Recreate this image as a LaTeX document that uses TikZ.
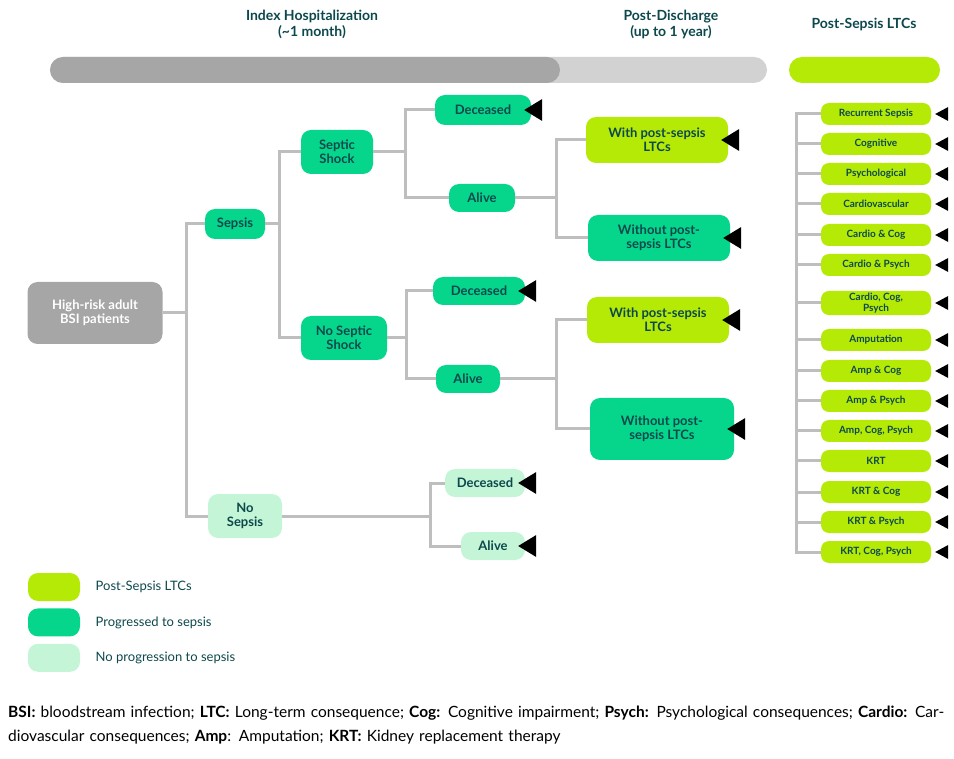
\documentclass[tikz,border=0pt]{standalone}
\usepackage{fontspec}
\setmainfont{Lato}
\usepackage{tikz}
\usetikzlibrary{positioning}
\definecolor{darkTeal}{RGB}{12,72,76}
\definecolor{sepsGreen}{RGB}{6,214,140}
\definecolor{noSeps}{RGB}{196,245,214}
\definecolor{ltcLime}{RGB}{180,234,6}
\definecolor{rootGray}{RGB}{166,166,166}
\definecolor{lineGray}{RGB}{190,190,190}
\tikzset{
  box/.style={rounded corners=10pt, align=center, font=\bfseries\fontsize{13}{14}\selectfont, text=darkTeal, inner sep=2pt},
  seps/.style={box, fill=sepsGreen},
  noseps/.style={box, fill=noSeps},
  ltc/.style={box, fill=ltcLime},
  small/.style={ltc, font=\bfseries\fontsize{10}{11}\selectfont, rounded corners=8pt},
  tree/.style={draw=lineGray, line width=3pt},
  marker/.style={fill=black},
}
\newcommand{\tri}[1]{\fill[marker] (#1) ++(-7,0) -- ++(18,11) -- ++(0,-22) -- cycle;}
\begin{document}
\begin{tikzpicture}[x=1pt, y=-1pt]
  \useasboundingbox (0,0) rectangle (954,759);
  % timeline bars
  \fill[rounded corners=13pt, lightgray!70] (50,57) rectangle (767,83);
  \fill[rounded corners=13pt, rootGray] (50,57) rectangle (560,83);
  \fill[rounded corners=13pt, ltcLime] (789,57) rectangle (940,83);
  \node[align=center, text=darkTeal, font=\bfseries\fontsize{14}{16}\selectfont] (hdrA) at (312,24) {Index Hospitalization\\(\textasciitilde1 month)};
  \node[align=center, text=darkTeal, font=\bfseries\fontsize{14}{16}\selectfont] (hdrB) at (671,24) {Post-Discharge\\(up to 1 year)};
  \node[text=darkTeal, font=\bfseries\fontsize{14}{16}\selectfont] (hdrC) at (864,24) {Post-Sepsis LTCs};

  % tree
  \node[box, fill=rootGray, text=white, minimum width=135pt, minimum height=62pt] (root) at (95,313) {High-risk adult\\BSI patients};
  \node[seps, minimum width=60pt, minimum height=30pt] (sepsis) at (235,224) {Sepsis};
  \node[noseps, minimum width=74pt, minimum height=44pt] (nosepsis) at (245,516) {No\\Sepsis};
  \node[seps, minimum width=72pt, minimum height=44pt] (shock) at (337,152) {Septic\\Shock};
  \node[seps, minimum width=86pt, minimum height=44pt] (noshock) at (344,338) {No Septic\\Shock};
  \node[seps, minimum width=96pt, minimum height=30pt] (dead1) at (483,110) {Deceased};
  \node[seps, minimum width=66pt, minimum height=28pt] (alive1) at (482,198) {Alive};
  \node[seps, minimum width=92pt, minimum height=28pt] (dead2) at (479,291) {Deceased};
  \node[seps, minimum width=64pt, minimum height=28pt] (alive2) at (468,379) {Alive};
  \node[noseps, minimum width=80pt, minimum height=28pt] (dead3) at (485,483) {Deceased};
  \node[noseps, minimum width=64pt, minimum height=28pt] (alive3) at (493,546) {Alive};
  \node[ltc, minimum width=142pt, minimum height=46pt] (with1) at (657,140) {With post-sepsis\\LTCs};
  \node[seps, minimum width=142pt, minimum height=46pt] (without1) at (659,238) {Without post-\\sepsis LTCs};
  \node[ltc, minimum width=142pt, minimum height=46pt] (with2) at (658,320) {With post-sepsis\\LTCs};
  \node[seps, minimum width=144pt, minimum height=62pt] (without2) at (662,429) {Without post-\\sepsis LTCs};

  \begin{scope}[on background layer/.style={}]
  \draw[tree] (root.east) -- ++(24,0) coordinate (jA);
  \draw[tree] (sepsis) -| (jA) |- (nosepsis);
  \draw[tree] (sepsis.east) -- ++(14,0) coordinate (jB);
  \draw[tree] (shock) -| (jB) |- (noshock);
  \draw[tree] (shock.east) -- ++(32,0) coordinate (jC);
  \draw[tree] (dead1) -| (jC) |- (alive1);
  \draw[tree] (noshock.east) -- ++(19,0) coordinate (jD);
  \draw[tree] (dead2) -| (jD) |- (alive2);
  \draw[tree] (alive1.east) -- ++(41,0) coordinate (jE);
  \draw[tree] (with1) -| (jE) |- (without1);
  \draw[tree] (alive2.east) -- ++(56,0) coordinate (jF);
  \draw[tree] (with2) -| (jF) |- (without2);
  \draw[tree] (nosepsis.east) -- ++(148,0) coordinate (jG);
  \draw[tree] (dead3) -| (jG) |- (alive3);
  \end{scope}

  \tri{dead1.east} \tri{dead2.east} \tri{dead3.east}
  \tri{alive3.east} \tri{with1.east} \tri{with2.east}
  \tri{without1.east} \tri{without2.east}

  % post-sepsis LTC column
  \coordinate (spine) at (796,114);
  \foreach \lbl/\yy [count=\i] in {Recurrent Sepsis/114, Cognitive/144, Psychological/174,
      Cardiovascular/204, Cardio \& Cog/235, Cardio \& Psych/265,
      {Cardio, Cog,\\Psych}/303, Amputation/340, Amp \& Cog/371, Amp \& Psych/401,
      {Amp, Cog, Psych}/431, KRT/461, KRT \& Cog/492, KRT \& Psych/522, {KRT, Cog, Psych}/552}{
    \node[small, minimum width=110pt, minimum height=22pt] (item\i) at (876,\yy) {\lbl};
    \draw[tree] (item\i.west) -- (796,\yy);
    \fill[marker] (item\i.east) ++(4,0) -- ++(13,7) -- ++(0,-14) -- cycle;
  }
  \draw[tree] (796,112.5) -- (796,553.5);

  % legend
  \node[ltc, minimum width=52pt, minimum height=28pt] (keyA) at (54,587) {};
  \node[seps, minimum width=52pt, minimum height=28pt, below=7pt of keyA] (keyB) {};
  \node[noseps, minimum width=52pt, minimum height=28pt, below=7pt of keyB] (keyC) {};
  \node[right=12pt of keyA, text=darkTeal, font=\fontsize{13}{14}\selectfont] {Post-Sepsis LTCs};
  \node[right=12pt of keyB, text=darkTeal, font=\fontsize{13}{14}\selectfont] {Progressed to sepsis};
  \node[right=12pt of keyC, text=darkTeal, font=\fontsize{13}{14}\selectfont] {No progression to sepsis};

  % footnote
  \node[anchor=north west, align=left, text width=940pt, font=\fontsize{15.5}{24}\selectfont, inner sep=0pt] (notes) at (8,706)
    {\textbf{BSI:} bloodstream infection; \textbf{LTC:} Long-term consequence; \textbf{Cog:} Cognitive impairment; \textbf{Psych:} Psychological consequences; \textbf{Cardio:} Cardiovascular consequences; \textbf{Amp}: Amputation; \textbf{KRT:} Kidney replacement therapy};
\end{tikzpicture}
\end{document}
